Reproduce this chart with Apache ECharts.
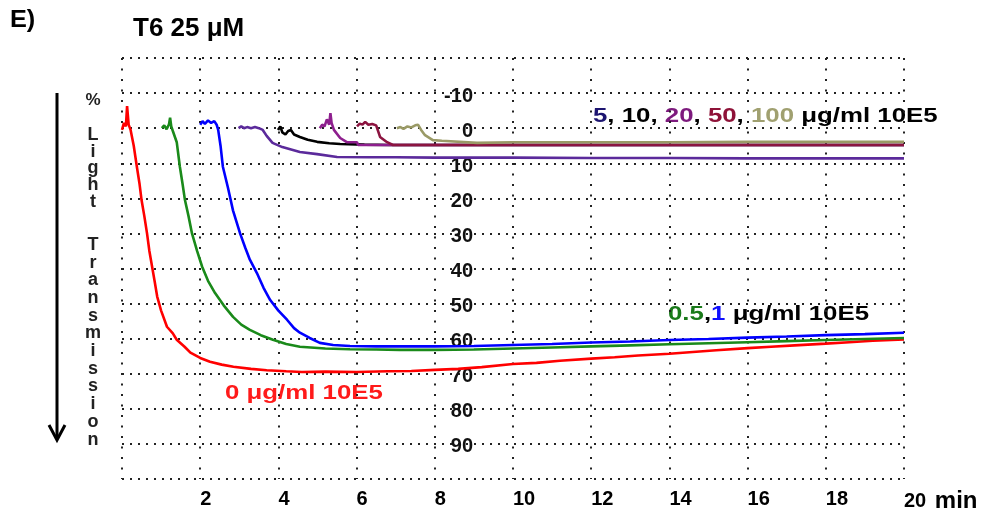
<!DOCTYPE html>
<html>
<head>
<meta charset="utf-8">
<script src="https://cdn.jsdelivr.net/npm/echarts@6/dist/echarts.min.js"></script>
<style>html,body{margin:0;padding:0;background:#fff}#c{width:984px;height:514px}</style>
</head>
<body>
<div id="c"></div>
<script>
// ---- data (x = min, y = % light transmission) ----
const xTicks = [0, 2, 4, 6, 8, 10, 12, 14, 16, 18, 20];
const yTicks = [-20, -10, 0, 10, 20, 30, 40, 50, 60, 70, 80, 90, 100];

const red0 = [[0.0,0.5],[0.05,-1.5],[0.1,-0.5],[0.13,-6.3],[0.17,-1],[0.22,0.5],[0.3,5],[0.38,11],[0.45,16],[0.5,20.5],[0.57,25],[0.64,30],[0.7,35],[0.77,39.5],[0.84,44],[0.9,48],[1.0,52],[1.15,56.6],[1.3,58.5],[1.4,60.3],[1.6,62.3],[1.75,64],[2.0,65.5],[2.25,66.6],[2.55,67.4],[2.85,68],[3.3,68.6],[3.7,69],[4.2,69.3],[4.6,69.5],[5.2,69.4],[6,69.5],[6.8,69.3],[7.4,69.2],[8,68.9],[8.6,68.6],[9.2,68.1],[10,67.2],[10.6,66.9],[11.2,66.3],[12,65.7],[12.6,65.3],[13.2,64.8],[14,64.3],[14.6,63.8],[15.2,63.3],[16,62.7],[16.6,62.3],[17.2,61.9],[18,61.4],[18.6,61],[19.2,60.6],[20,60.2]];

const green05 = [[1.02,0],[1.08,-0.8],[1.14,0.3],[1.2,-1],[1.23,-3],[1.26,-0.5],[1.3,0.8],[1.4,4],[1.48,11],[1.55,16],[1.61,20.5],[1.7,25],[1.79,30],[1.92,35],[2.05,39.5],[2.2,43.5],[2.38,47],[2.6,50.5],[2.84,53.8],[3.05,56],[3.27,57.5],[3.55,59],[3.86,60.3],[4.2,61.5],[4.55,62.3],[5.2,62.8],[5.83,63],[6.5,63.1],[7.1,63.2],[8,63.2],[9,63.1],[10,62.8],[11,62.5],[12,62.2],[13,61.9],[14,61.6],[15,61.3],[16,61],[17,60.7],[18,60.4],[19,60.1],[20,59.8]];

const blue1 = [[2.0,-1],[2.06,-2],[2.12,-1.2],[2.2,-2.2],[2.28,-1.5],[2.36,-2],[2.42,-1],[2.46,0.5],[2.52,5],[2.58,11],[2.71,17],[2.84,23.5],[3.02,30],[3.15,34],[3.27,37.5],[3.45,41.3],[3.62,45.5],[3.79,49],[4.0,52],[4.22,54.6],[4.4,57],[4.55,58.3],[4.8,59.8],[5.06,61.2],[5.4,61.8],[5.83,62.1],[6.5,62.2],[7.1,62.2],[8,62.2],[9,62.1],[10,61.8],[11,61.5],[12,61.1],[13,60.8],[14,60.4],[15,60.1],[16,59.7],[17,59.4],[18,59],[19,58.7],[20,58.3]];

const purple5 = [[2.98,0],[3.05,-0.5],[3.12,0],[3.2,-0.3],[3.3,0],[3.4,-0.3],[3.5,0],[3.6,0.5],[3.7,2.2],[3.85,4.2],[4.1,5.4],[4.55,6.8],[4.99,7.4],[5.5,8.2],[6.3,8.3],[7,8.3],[8,8.4],[10,8.4],[12,8.5],[14,8.5],[16,8.6],[18,8.6],[20,8.6]];

const black10 = [[3.99,0.5],[4.05,-0.5],[4.1,1.2],[4.18,1.8],[4.25,0.8],[4.32,0.5],[4.4,1.8],[4.55,2.5],[4.75,3.3],[4.99,3.9],[5.3,4.3],[5.58,4.5],[6.2,4.7],[6.85,4.8],[8,4.8],[10,4.8],[12,4.8],[14,4.8],[16,4.8],[18,4.8],[20,4.8]];

const magenta20 = [[5.06,0],[5.12,-1],[5.18,-0.5],[5.24,-2.5],[5.3,-1],[5.33,-4.3],[5.36,-1.5],[5.42,0.5],[5.58,2.8],[5.75,4],[6.01,4],[6.04,4.8],[7,4.8],[8,4.8],[10,4.8],[12,4.8],[14,4.8],[16,4.8],[18,4.8],[20,4.8]];

const maroon50 = [[6.01,-0.5],[6.08,-1.3],[6.15,-1],[6.22,-1.8],[6.3,-1],[6.4,-1.2],[6.5,-0.8],[6.6,2.5],[6.78,4],[6.93,4.8],[8,4.8],[10,4.8],[12,4.8],[14,4.8],[16,4.8],[18,4.8],[20,4.8]];

const olive100 = [[7.03,0],[7.12,-0.3],[7.2,0.2],[7.3,-0.5],[7.4,-0.2],[7.5,-0.8],[7.57,-1],[7.65,0.5],[7.75,2],[7.95,3.4],[8.18,3.6],[9.08,4.2],[10,4],[12,4],[14,4],[16,3.9],[18,3.9],[20,3.9]];

// ---- chart ----
const chart = echarts.init(document.getElementById('c'));
const sans = '"Liberation Sans", Arial, sans-serif';
function line(data, color, z) {
  return { type: 'line', data: data, showSymbol: false, symbol: 'none', z: z,
    lineStyle: { color: color, width: 2.6 }, animation: false };
}
chart.setOption({
  animation: false,
  backgroundColor: '#fff',
  grid: { left: 122, right: 80, top: 58, bottom: 35 },
  xAxis: {
    type: 'value', min: xTicks[0], max: xTicks[xTicks.length - 1], interval: 2,
    axisLine: { show: false }, axisTick: { show: false },
    splitLine: { show: true, lineStyle: { color: '#222', width: 2, type: [2, 8.5] } },
    axisLabel: {
      margin: 10, align: 'left', color: '#000', fontFamily: sans, fontWeight: 'bold', fontSize: 20,
      formatter: function (v) { if (v === 0) return ''; if (v === 20) return '20 {m|min}'; return String(v); },
      rich: { m: { fontFamily: sans, fontWeight: 'bold', fontSize: 24, color: '#000', padding: [0, 0, 0, 3] } }
    }
  },
  yAxis: {
    type: 'value', inverse: true, min: yTicks[0], max: yTicks[yTicks.length - 1], interval: 10,
    position: 'left', offset: -359,
    axisLine: { show: false }, axisTick: { show: false },
    splitLine: { show: true, lineStyle: { color: '#222', width: 2, type: [2, 6] } },
    axisLabel: {
      margin: 8, color: '#111', fontFamily: sans, fontWeight: 'bold', fontSize: 20,
      verticalAlign: 'top', lineHeight: 6,
      formatter: function (v) { return (v === -20 || v === 100) ? '' : String(v); }
    }
  },
  series: [
    line(purple5, '#5b2a9b', 2),
    line(black10, '#000000', 3),
    line(magenta20, '#8e1f8e', 4),
    line(maroon50, '#8c1440', 5),
    line(olive100, '#9a9a66', 6),
    line(red0, '#ff0000', 7),
    line(green05, '#1a8a1a', 8),
    line(blue1, '#0000ff', 9)
  ],
  graphic: [
    { type: 'text', x: 10, y: 21, scaleX: 1.1, style: { text: 'E)', fontFamily: sans, fontWeight: 'bold', fontSize: 23, fill: '#000', verticalAlign: 'middle' } },
    { type: 'text', x: 133, y: 29, style: { text: 'T6 25 μM', fontFamily: sans, fontWeight: 'bold', fontSize: 26, fill: '#000', verticalAlign: 'middle' } },
    { type: 'text', x: 593, y: 116, scaleX: 1.23, style: {
      text: '{a|5}{k|, 10, }{c|20}{k|, }{d|50}{k|, }{e|100}{k| μg/ml 10E5}',
      verticalAlign: 'middle',
      rich: {
        a: { fontFamily: sans, fontWeight: 'bold', fontSize: 21, fill: '#1c1470', color: '#1c1470' },
        k: { fontFamily: sans, fontWeight: 'bold', fontSize: 21, fill: '#000', color: '#000' },
        c: { fontFamily: sans, fontWeight: 'bold', fontSize: 21, fill: '#7d1a7d', color: '#7d1a7d' },
        d: { fontFamily: sans, fontWeight: 'bold', fontSize: 21, fill: '#8e1238', color: '#8e1238' },
        e: { fontFamily: sans, fontWeight: 'bold', fontSize: 21, fill: '#a0a070', color: '#a0a070' }
      } } },
    { type: 'text', x: 668, y: 314, scaleX: 1.23, style: {
      text: '{g|0.5}{k|,}{b|1}{k| μg/ml 10E5}',
      verticalAlign: 'middle',
      rich: {
        g: { fontFamily: sans, fontWeight: 'bold', fontSize: 21, fill: '#1a7a1a', color: '#1a7a1a' },
        b: { fontFamily: sans, fontWeight: 'bold', fontSize: 21, fill: '#1010ff', color: '#1010ff' },
        k: { fontFamily: sans, fontWeight: 'bold', fontSize: 21, fill: '#000', color: '#000' }
      } } },
    { type: 'text', x: 225, y: 393, scaleX: 1.23, style: { text: '0 μg/ml 10E5', fontFamily: sans, fontWeight: 'bold', fontSize: 21, fill: '#ff1a1a', verticalAlign: 'middle' } },
    { type: 'text', x: 93, y: 100, style: { text: '%', fontFamily: sans, fontWeight: 'bold', fontSize: 17, fill: '#222', align: 'center', verticalAlign: 'middle' } },
    { type: 'text', x: 93, y: 127, style: { text: 'L\ni\ng\nh\nt', fontFamily: sans, fontWeight: 'bold', fontSize: 18, lineHeight: 16.6, fill: '#222', align: 'center', verticalAlign: 'top' } },
    { type: 'text', x: 93, y: 236, style: { text: 'T\nr\na\nn\ns\nm\ni\ns\ns\ni\no\nn', fontFamily: sans, fontWeight: 'bold', fontSize: 18, lineHeight: 17.7, fill: '#222', align: 'center', verticalAlign: 'top' } },
    { type: 'line', shape: { x1: 57, y1: 93, x2: 57, y2: 438 }, style: { stroke: '#000', lineWidth: 3 } },
    { type: 'polyline', shape: { points: [[49, 425], [57, 440], [65, 425]] }, style: { stroke: '#000', lineWidth: 3, fill: null } }
  ]
});
</script>
</body>
</html>
